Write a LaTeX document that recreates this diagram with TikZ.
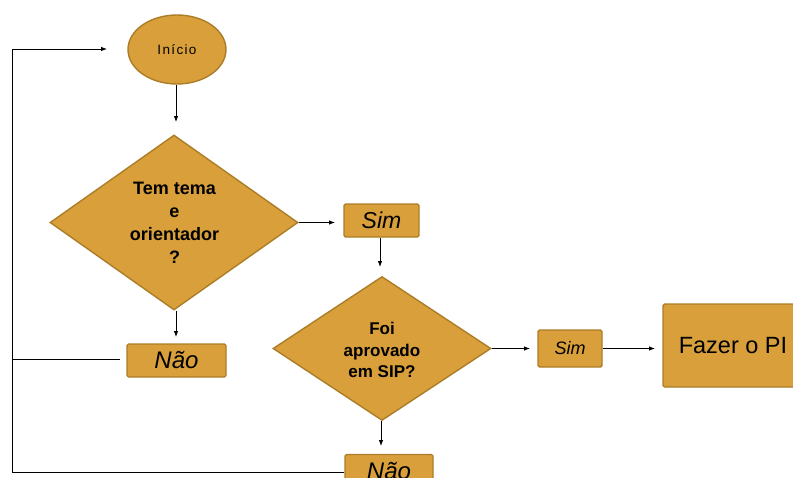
\documentclass[tikz,border=0pt]{standalone}
\usepackage{fontspec}
\setmainfont{Liberation Sans}
\usetikzlibrary{shapes.geometric,arrows.meta}
\definecolor{fillc}{RGB}{216,159,59}
\definecolor{bordc}{RGB}{172,125,40}
\tikzset{
  shapebase/.style={draw=bordc, fill=fillc, line width=1.4pt},
  boxn/.style={shapebase, rectangle, rounded corners=1.5pt, inner sep=0pt},
  dian/.style={shapebase, diamond, inner sep=0pt},
  conn/.style={-{Latex[length=6pt,width=4.5pt]}, line width=0.8pt, black},
  plain/.style={line width=0.8pt, black},
}
\begin{document}
\begin{tikzpicture}[x=1pt,y=-1pt]
\useasboundingbox (0,0) rectangle (793,477);
\clip (0,0) rectangle (793,477);
% shapes
\node[shapebase, ellipse, minimum width=98pt, minimum height=69pt, inner sep=0pt,
      font={\fontsize{13.5}{15}\selectfont\addfontfeature{LetterSpace=10}}] (inicio) at (177,49.5) {Início};
\node[dian, minimum width=248pt, minimum height=175pt] (d1) at (174,222.5) {};
\node[align=center, font={\fontsize{18}{23}\selectfont\bfseries}] (d1t) at (174.5,223) {Tem tema\\e\\orientador\\?};
\node[boxn, minimum width=75pt, minimum height=33pt, font={\fontsize{23}{25}\selectfont\itshape}] (sim1) at (381.5,220.5) {Sim};
\node[dian, minimum width=218pt, minimum height=144pt] (d2) at (382,348.5) {};
\node[align=center, font={\fontsize{17}{21.5}\selectfont\bfseries}] (d2t) at (382,350) {Foi\\aprovado\\em SIP?};
\node[boxn, minimum width=64pt, minimum height=37pt, font={\fontsize{18}{20}\selectfont\itshape}] (sim2) at (570,348.5) {Sim};
\node[boxn, minimum width=140pt, minimum height=83pt, font={\fontsize{23.5}{26}\selectfont}] (fazer) at (733,345.5) {Fazer o PI};
\node[boxn, minimum width=99pt, minimum height=33pt, font={\fontsize{24}{26}\selectfont\itshape}] (nao1) at (176.5,360.5) {Não};
\node[boxn, minimum width=88pt, minimum height=33pt, font={\fontsize{24}{26}\selectfont\itshape}] (nao2) at (389,471) {Não};
% free ends
\coordinate (a1) at (176,122);
\coordinate (a2) at (335,222.5);
\coordinate (a3) at (380,267);
\coordinate (a4) at (176,337);
\coordinate (a5) at (381,446);
\coordinate (a6) at (530,348.5);
\coordinate (a7) at (655,348.5);
\coordinate (l1) at (120,359);
\coordinate (c1) at (12,359);
\coordinate (c2) at (12,472);
\coordinate (c3) at (12,49);
\coordinate (t1) at (107,49);
% connectors
\draw[conn] (inicio.south -| a1) -- (a1);
\draw[conn] (d1.east) -- (a2);
\draw[conn] (sim1.south -| a3) -- (a3);
\draw[conn] (d1.south -| a4) -- (a4);
\draw[conn] (d2.south -| a5) -- (a5);
\draw[conn] (d2.east) -- (a6);
\draw[conn] (sim2.east) -- (a7);
\draw[plain] (l1) -- (c1);
\draw[conn] (nao2.west |- c2) -- (c2) -- (c3) -- (t1);
\end{tikzpicture}
\end{document}
